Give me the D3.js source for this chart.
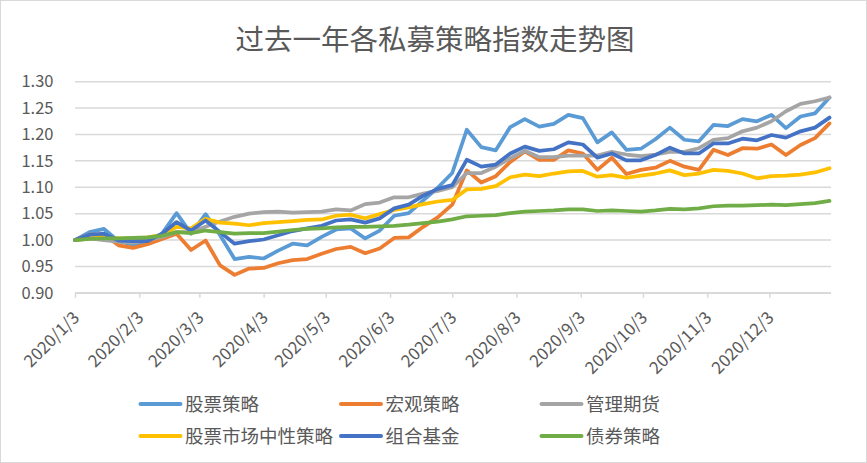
<!DOCTYPE html>
<html>
<head>
<meta charset="utf-8">
<script src="https://cdn.jsdelivr.net/npm/d3@7"></script>
<style>
  html, body { margin: 0; padding: 0; background: #fff; }
  svg { display: block; font-family: "Noto Sans CJK SC", "Noto Sans", sans-serif; }
</style>
</head>
<body>
<svg id="chart" width="867" height="463"></svg>
<script>
// ---------------- data ----------------
const title = "过去一年各私募策略指数走势图";

const dates = [
  "2020-01-03","2020-01-10","2020-01-17","2020-01-24","2020-01-31",
  "2020-02-07","2020-02-14","2020-02-21","2020-02-28",
  "2020-03-06","2020-03-13","2020-03-20","2020-03-27",
  "2020-04-03","2020-04-10","2020-04-17","2020-04-24",
  "2020-05-01","2020-05-08","2020-05-15","2020-05-22","2020-05-29",
  "2020-06-05","2020-06-12","2020-06-19","2020-06-26",
  "2020-07-03","2020-07-10","2020-07-17","2020-07-24","2020-07-31",
  "2020-08-07","2020-08-14","2020-08-21","2020-08-28",
  "2020-09-04","2020-09-11","2020-09-18","2020-09-25",
  "2020-10-02","2020-10-09","2020-10-16","2020-10-23","2020-10-30",
  "2020-11-06","2020-11-13","2020-11-20","2020-11-27",
  "2020-12-04","2020-12-11","2020-12-18","2020-12-25",
  "2021-01-01"
];

const seriesNames = ["股票策略","宏观策略","管理期货","股票市场中性策略","组合基金","债券策略"];
const seriesColors = ["#5B9BD5","#ED7D31","#A5A5A5","#FFC000","#4472C4","#70AD47"];

const stockStrategy = [
  1.000,1.015,1.021,0.998,0.991,0.994,1.012,1.051,1.012,1.049,1.009,0.964,0.968,
  0.965,0.980,0.993,0.990,1.006,1.020,1.022,1.003,1.018,1.046,1.051,1.075,1.099,
  1.127,1.209,1.176,1.170,1.214,1.229,1.215,1.220,1.237,1.231,1.185,1.204,1.171,
  1.173,1.191,1.213,1.190,1.187,1.218,1.216,1.229,1.225,1.237,1.212,1.234,1.240,1.270
];
const macroStrategy = [
  1.000,1.010,1.010,0.990,0.985,0.992,1.002,1.012,0.981,0.999,0.952,0.934,0.946,
  0.947,0.956,0.962,0.964,0.974,0.983,0.987,0.975,0.984,1.004,1.005,1.025,1.043,
  1.067,1.132,1.109,1.121,1.148,1.168,1.152,1.152,1.170,1.164,1.133,1.156,1.125,
  1.133,1.137,1.150,1.139,1.133,1.171,1.161,1.174,1.173,1.181,1.161,1.180,1.193,1.221
];
const managedFutures = [
  1.000,1.003,1.000,0.997,0.995,1.000,1.006,1.015,1.015,1.025,1.035,1.044,1.050,
  1.053,1.054,1.052,1.053,1.054,1.058,1.056,1.068,1.071,1.081,1.081,1.088,1.093,
  1.100,1.127,1.127,1.139,1.155,1.169,1.157,1.157,1.160,1.160,1.160,1.167,1.162,
  1.159,1.162,1.167,1.167,1.174,1.190,1.193,1.206,1.213,1.225,1.244,1.258,1.263,1.270
];
const marketNeutral = [
  1.000,1.003,1.005,1.003,1.003,1.005,1.010,1.025,1.022,1.040,1.033,1.031,1.028,
  1.032,1.034,1.036,1.038,1.039,1.046,1.048,1.041,1.049,1.057,1.062,1.068,1.073,
  1.076,1.096,1.097,1.102,1.119,1.124,1.121,1.126,1.130,1.131,1.120,1.123,1.118,
  1.122,1.126,1.132,1.123,1.126,1.133,1.131,1.126,1.117,1.121,1.122,1.124,1.128,1.136
];
const fundOfFunds = [
  1.000,1.010,1.012,0.999,0.998,0.998,1.012,1.034,1.018,1.037,1.015,0.993,0.998,
  1.001,1.009,1.017,1.022,1.027,1.037,1.039,1.033,1.041,1.060,1.067,1.084,1.097,
  1.104,1.152,1.139,1.143,1.164,1.177,1.169,1.172,1.185,1.181,1.156,1.164,1.151,
  1.151,1.161,1.175,1.164,1.164,1.183,1.183,1.192,1.189,1.199,1.194,1.206,1.213,1.232
];
const bondStrategy = [
  1.000,1.002,1.003,1.003,1.004,1.005,1.008,1.015,1.013,1.018,1.015,1.012,1.013,
  1.013,1.016,1.019,1.021,1.022,1.024,1.025,1.025,1.026,1.027,1.029,1.032,1.035,
  1.039,1.045,1.046,1.047,1.051,1.054,1.055,1.056,1.058,1.058,1.055,1.056,1.055,
  1.054,1.056,1.059,1.058,1.060,1.064,1.065,1.065,1.066,1.067,1.066,1.068,1.070,1.074
];

const xTickLabels = ["2020/1/3","2020/2/3","2020/3/3","2020/4/3","2020/5/3","2020/6/3",
                     "2020/7/3","2020/8/3","2020/9/3","2020/10/3","2020/11/3","2020/12/3"];
const yTickValues = [0.90,0.95,1.00,1.05,1.10,1.15,1.20,1.25,1.30];

// ---------------- chart ----------------
const allSeries = [stockStrategy, macroStrategy, managedFutures, marketNeutral, fundOfFunds, bondStrategy];
const parseD = d3.timeParse("%Y-%m-%d");
const parseTick = d3.timeParse("%Y/%m/%d");
const dateObjs = dates.map(parseD);
const tickDates = xTickLabels.map(parseTick);

const svg = d3.select("#chart");
const W = 867, H = 463;
const plot = { left: 75, right: 829.5, top: 81.7, bottom: 292.8, gridRight: 831 };

// outer border
svg.append("rect").attr("x", 0.5).attr("y", 0.5).attr("width", W - 1).attr("height", H - 1)
  .attr("fill", "#fff").attr("stroke", "#d9d9d9").attr("stroke-width", 1);

// title
svg.append("text").attr("x", 435).attr("y", 50).attr("text-anchor", "middle")
  .attr("font-size", 28.5).attr("fill", "#595959").text(title);

const x = d3.scaleTime().domain([dateObjs[0], dateObjs[dateObjs.length - 1]])
  .range([plot.left, plot.right]);
const y = d3.scaleLinear().domain([0.90, 1.30]).range([plot.bottom, plot.top]);

// gridlines
const grid = svg.append("g").attr("class", "grid");
grid.selectAll("line").data(yTickValues).join("line")
  .attr("x1", plot.left).attr("x2", plot.gridRight)
  .attr("y1", d => y(d)).attr("y2", d => y(d))
  .attr("stroke", "#d9d9d9").attr("stroke-width", 1.5);

// y axis labels
const yAxis = d3.axisLeft(y).tickValues(yTickValues).tickFormat(d3.format(".2f")).tickSize(0).tickPadding(0);
const gy = svg.append("g").attr("transform", `translate(${53.5},0)`).call(yAxis);
gy.select(".domain").remove();
gy.selectAll("text").attr("font-size", 16.5).attr("fill", "#595959")
  .attr("font-family", "'Noto Sans CJK SC', sans-serif");

// x axis
const xAxis = d3.axisBottom(x).tickValues(tickDates).tickFormat((d, i) => xTickLabels[i])
  .tickSize(5).tickSizeOuter(0);
const gx = svg.append("g").attr("transform", `translate(0,${plot.bottom})`).call(xAxis);
gx.select(".domain").attr("d", `M${plot.left},0.5H${plot.gridRight}`).attr("stroke", "#d9d9d9").attr("stroke-width", 1.5);
gx.selectAll(".tick line").attr("stroke", "#d9d9d9").attr("stroke-width", 1.5);
gx.selectAll(".tick text")
  .attr("font-size", 17).attr("fill", "#595959")
  .attr("font-family", "'Noto Sans CJK SC', sans-serif")
  .attr("text-anchor", "end")
  .attr("dy", 0).attr("y", 0)
  .attr("transform", "translate(5,26) rotate(-45)");

// lines
const lineGen = d3.line().x((d, i) => x(dateObjs[i])).y(d => y(d));
svg.append("g").selectAll("path").data(allSeries).join("path")
  .attr("d", d => lineGen(d))
  .attr("fill", "none")
  .attr("stroke", (d, i) => seriesColors[i])
  .attr("stroke-width", 3.75)
  .attr("stroke-linejoin", "round")
  .attr("stroke-linecap", "round");

// legend
const legendCols = [138.5, 339, 539.5];
const legendRows = [404, 436];
const legend = svg.append("g");
seriesNames.forEach((name, i) => {
  const cx = legendCols[i % 3], cy = legendRows[Math.floor(i / 3)];
  legend.append("line").attr("x1", cx + 2).attr("x2", cx + 42).attr("y1", cy).attr("y2", cy)
    .attr("stroke", seriesColors[i]).attr("stroke-width", 4).attr("stroke-linecap", "round");
  legend.append("text").attr("x", cx + 46.5).attr("y", cy).attr("dy", "0.36em")
    .attr("font-size", 18.5).attr("fill", "#595959").text(name);
});
</script>
</body>
</html>
